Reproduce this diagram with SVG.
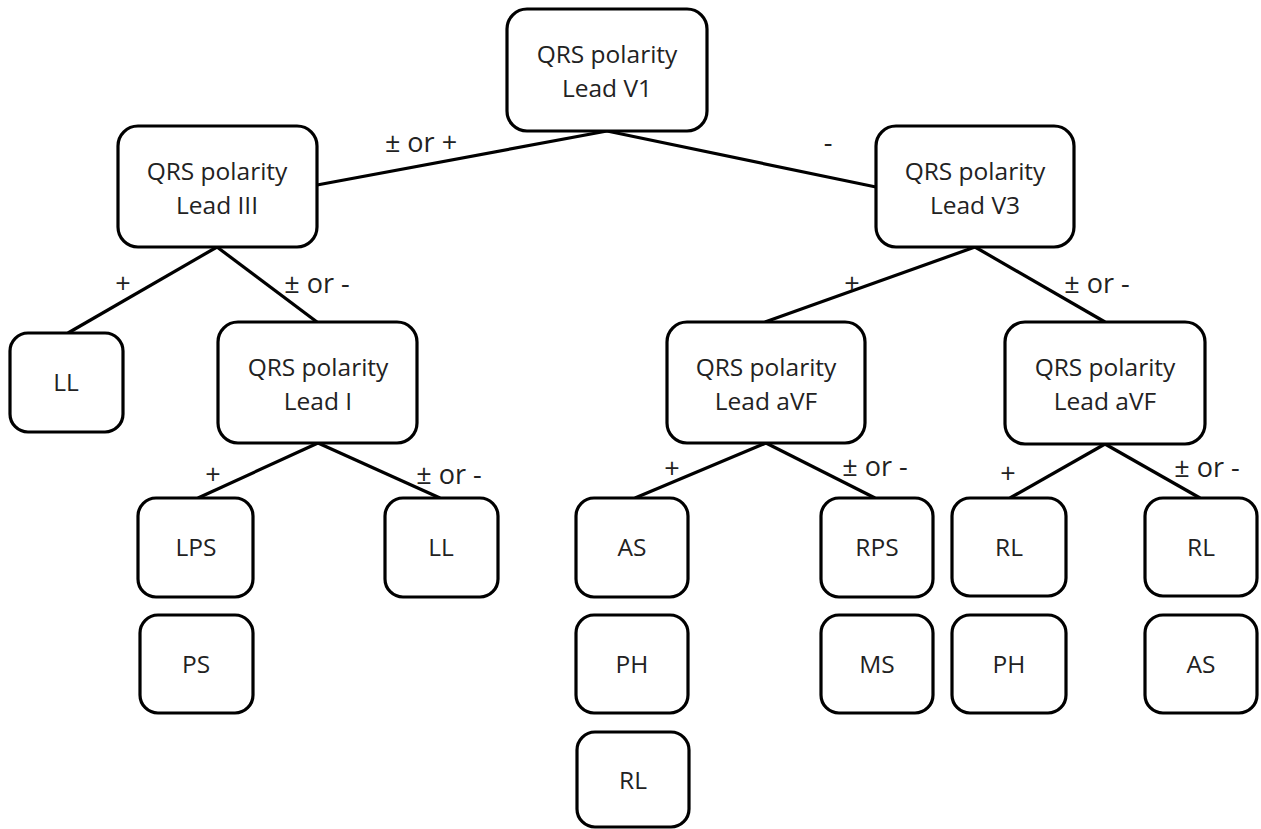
<svg xmlns="http://www.w3.org/2000/svg" width="1261" height="829" viewBox="0 0 1261 829">
<style>
.box{fill:#fff;stroke:#000;stroke-width:3.2}
.t{font-family:"Open Sans","Liberation Sans",sans-serif;font-size:24.5px;fill:#222;text-anchor:middle}
.lbl{font-family:"Open Sans","Liberation Sans",sans-serif;font-size:27px;fill:#222;text-anchor:middle}
.c{stroke:#000;stroke-width:3.2;fill:none}
</style>
<rect width="1261" height="829" fill="#fff"/>
<g id="connectors">
<line class="c" x1="317" y1="185" x2="607" y2="131"/>
<line class="c" x1="607" y1="131" x2="876" y2="187"/>
<line class="c" x1="217" y1="247" x2="68" y2="333"/>
<line class="c" x1="217" y1="247" x2="317" y2="322"/>
<line class="c" x1="318" y1="443" x2="198" y2="498"/>
<line class="c" x1="318" y1="443" x2="440" y2="498"/>
<line class="c" x1="975" y1="247" x2="765" y2="322"/>
<line class="c" x1="975" y1="247" x2="1105" y2="322"/>
<line class="c" x1="766" y1="443" x2="635" y2="498"/>
<line class="c" x1="766" y1="443" x2="875" y2="498"/>
<line class="c" x1="1105" y1="444" x2="1010" y2="498"/>
<line class="c" x1="1105" y1="444" x2="1200" y2="498"/>
</g>
<g id="labels">
<text class="lbl" x="421" y="152">± or +</text>
<text class="lbl" x="828" y="152">-</text>
<text class="lbl" x="123" y="293">+</text>
<text class="lbl" x="317" y="293">± or -</text>
<text class="lbl" x="852" y="293">+</text>
<text class="lbl" x="1097" y="293">± or -</text>
<text class="lbl" x="213" y="484">+</text>
<text class="lbl" x="449" y="484">± or -</text>
<text class="lbl" x="672" y="478">+</text>
<text class="lbl" x="875" y="476">± or -</text>
<text class="lbl" x="1008" y="483">+</text>
<text class="lbl" x="1207" y="477">± or -</text>
</g>
<g id="root"><rect class="box" x="507" y="9" width="200" height="122" rx="20"/><text class="t" x="607" y="63">QRS polarity</text><text class="t" x="607" y="97">Lead V1</text></g>
<g id="lead3"><rect class="box" x="118" y="126" width="199" height="121" rx="20"/><text class="t" x="217" y="180">QRS polarity</text><text class="t" x="217" y="214">Lead III</text></g>
<g id="leadV3"><rect class="box" x="876" y="126" width="198" height="121" rx="20"/><text class="t" x="975" y="180">QRS polarity</text><text class="t" x="975" y="214">Lead V3</text></g>
<g id="ll1"><rect class="box" x="10" y="333" width="113" height="99" rx="18"/><text class="t" x="66" y="391">LL</text></g>
<g id="lead1"><rect class="box" x="218" y="322" width="199" height="121" rx="20"/><text class="t" x="318" y="376">QRS polarity</text><text class="t" x="318" y="410">Lead I</text></g>
<g id="aVF1"><rect class="box" x="667" y="322" width="198" height="121" rx="20"/><text class="t" x="766" y="376">QRS polarity</text><text class="t" x="766" y="410">Lead aVF</text></g>
<g id="aVF2"><rect class="box" x="1005" y="322" width="200" height="122" rx="20"/><text class="t" x="1105" y="376">QRS polarity</text><text class="t" x="1105" y="410">Lead aVF</text></g>
<g id="lps"><rect class="box" x="138" y="498" width="115" height="99" rx="18"/><text class="t" x="196" y="556">LPS</text></g>
<g id="ps"><rect class="box" x="140" y="615" width="113" height="98" rx="18"/><text class="t" x="196" y="673">PS</text></g>
<g id="ll2"><rect class="box" x="385" y="498" width="113" height="99" rx="18"/><text class="t" x="441" y="556">LL</text></g>
<g id="as1"><rect class="box" x="576" y="498" width="112" height="99" rx="18"/><text class="t" x="632" y="556">AS</text></g>
<g id="ph1"><rect class="box" x="576" y="615" width="112" height="98" rx="18"/><text class="t" x="632" y="673">PH</text></g>
<g id="rl1"><rect class="box" x="577" y="732" width="112" height="95" rx="18"/><text class="t" x="633" y="789">RL</text></g>
<g id="rps"><rect class="box" x="821" y="498" width="112" height="99" rx="18"/><text class="t" x="877" y="556">RPS</text></g>
<g id="ms"><rect class="box" x="821" y="615" width="112" height="98" rx="18"/><text class="t" x="877" y="673">MS</text></g>
<g id="rl2"><rect class="box" x="952" y="498" width="114" height="98" rx="18"/><text class="t" x="1009" y="556">RL</text></g>
<g id="ph2"><rect class="box" x="952" y="615" width="114" height="98" rx="18"/><text class="t" x="1009" y="673">PH</text></g>
<g id="rl3"><rect class="box" x="1145" y="498" width="112" height="98" rx="18"/><text class="t" x="1201" y="556">RL</text></g>
<g id="as2"><rect class="box" x="1145" y="615" width="112" height="98" rx="18"/><text class="t" x="1201" y="673">AS</text></g>
</svg>
